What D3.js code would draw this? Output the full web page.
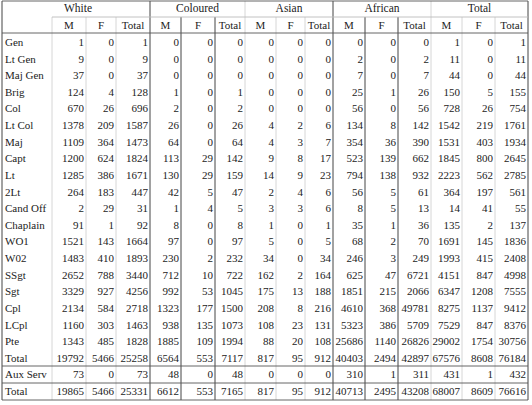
<!DOCTYPE html>
<html><head><meta charset="utf-8">
<script src="https://cdn.jsdelivr.net/npm/d3@7"></script>
<style>body{margin:0;background:#fff} text{font-family:"Liberation Serif","Times New Roman","DejaVu Serif",serif}</style>
</head><body>
<svg id="chart" width="532" height="405"></svg>
<script>
var groups = ["White", "Coloured", "Asian", "African", "Total"];
var subCols = ["M", "F", "Total"];
var ranks = ["Gen","Lt Gen","Maj Gen","Brig","Col","Lt Col","Maj","Capt","Lt","2Lt","Cand Off","Chaplain","WO1","W02","SSgt","Sgt","Cpl","LCpl","Pte","Total","Aux Serv","Total"];
var white = [[1,0,1],[9,0,9],[37,0,37],[124,4,128],[670,26,696],[1378,209,1587],[1109,364,1473],[1200,624,1824],[1285,386,1671],[264,183,447],[2,29,31],[91,1,92],[1521,143,1664],[1483,410,1893],[2652,788,3440],[3329,927,4256],[2134,584,2718],[1160,303,1463],[1343,485,1828],[19792,5466,25258],[73,0,73],[19865,5466,25331]];
var coloured = [[0,0,0],[0,0,0],[0,0,0],[1,0,1],[2,0,2],[26,0,26],[64,0,64],[113,29,142],[130,29,159],[42,5,47],[1,4,5],[8,0,8],[97,0,97],[230,2,232],[712,10,722],[992,53,1045],[1323,177,1500],[938,135,1073],[1885,109,1994],[6564,553,7117],[48,0,48],[6612,553,7165]];
var asian = [[0,0,0],[0,0,0],[0,0,0],[0,0,0],[0,0,0],[4,2,6],[4,3,7],[9,8,17],[14,9,23],[2,4,6],[3,3,6],[1,0,1],[5,0,5],[34,0,34],[162,2,164],[175,13,188],[208,8,216],[108,23,131],[88,20,108],[817,95,912],[0,0,0],[817,95,912]];
var african = [[0,0,0],[2,0,2],[7,0,7],[25,1,26],[56,0,56],[134,8,142],[354,36,390],[523,139,662],[794,138,932],[56,5,61],[8,5,13],[35,1,36],[68,2,70],[246,3,249],[625,47,6721],[1851,215,2066],[4610,368,49781],[5323,386,5709],[25686,1140,26826],[40403,2494,42897],[310,1,311],[40713,2495,43208]];
var total = [[1,0,1],[11,0,11],[44,0,44],[150,5,155],[728,26,754],[1542,219,1761],[1531,403,1934],[1845,800,2645],[2223,562,2785],[364,197,561],[14,41,55],[135,2,137],[1691,145,1836],[1993,415,2408],[4151,847,4998],[6347,1208,7555],[8275,1137,9412],[7529,847,8376],[29002,1754,30756],[67576,8608,76184],[431,1,432],[68007,8609,76616]];
var series = [white, coloured, asian, african, total];

var svg = d3.select("#chart");
var edges = [2, 52, 86, 116, 150, 181, 215, 245, 276, 305, 333, 365, 398, 431, 462, 495, 528];
var darkEdges = [150, 181, 215, 333, 365, 398];
var y = d3.scaleLinear().domain([0, 21]).range([42, 391]);

// header
groups.forEach(function(g, i) {
  var x0 = edges[1 + i*3], x1 = edges[4 + i*3];
  svg.append("text").attr("x", i == 0 ? 78 : (x0 + x1)/2).attr("y", 12)
    .attr("text-anchor", "middle").attr("font-size", 11.5).attr("fill", "#222").text(g);
  subCols.forEach(function(s, j) {
    var l = edges[1 + i*3 + j], r = edges[2 + i*3 + j];
    svg.append("text").attr("x", (l + r)/2).attr("y", 29)
      .attr("text-anchor", "middle").attr("font-size", 11).attr("fill", "#222").text(s);
  });
});

// vertical lines
edges.forEach(function(e, k) {
  var dark = darkEdges.indexOf(e) >= 0 || k == 0 || k == edges.length-1;
  var topY = (k == 0 || k == edges.length-1 || ((k-1) % 3 == 0 && k > 1)) ? 1 : 17;
  svg.append("line").attr("x1", e).attr("x2", e).attr("y1", topY).attr("y2", 400)
    .attr("stroke", dark ? "#444" : "#ccc").attr("stroke-width", dark ? 1 : 0.8);
});

// horizontal lines
[1, 17, 33, 366, 383, 400].forEach(function(h, i) {
  svg.append("line").attr("x1", i == 1 ? edges[1] : 2).attr("x2", 528).attr("y1", h).attr("y2", h)
    .attr("stroke", i == 1 ? "#bbb" : "#555").attr("stroke-width", 0.9);
});

// rows
ranks.forEach(function(r, i) {
  svg.append("text").attr("x", 5).attr("y", y(i) + 4)
    .attr("font-size", 11).attr("fill", "#222").text(r);
  series.forEach(function(s, g) {
    s[i].forEach(function(v, j) {
      svg.append("text").attr("x", edges[2 + g*3 + j] - 2).attr("y", y(i) + 4)
        .attr("text-anchor", "end").attr("font-size", 11)
        .attr("fill", "#222").text(v);
    });
  });
});
</script>
</body></html>
